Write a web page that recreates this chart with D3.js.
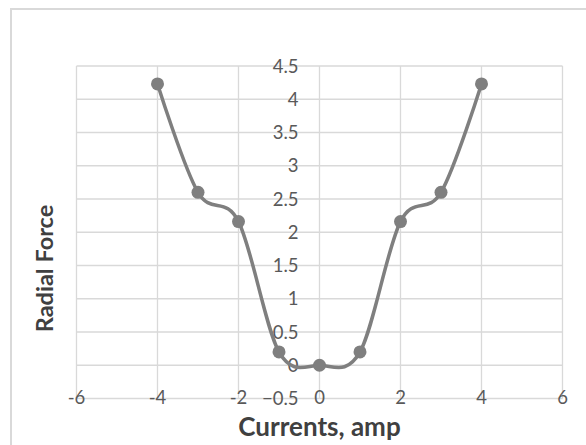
<!DOCTYPE html>
<html>
<head>
<meta charset="utf-8">
<script src="https://cdn.jsdelivr.net/npm/d3@7"></script>
<style>
  html, body { margin: 0; padding: 0; background: #fff; }
  svg { display: block; }
</style>
</head>
<body>
<svg id="chart" width="586" height="445"></svg>
<script>
// Radial force measured at each coil current
const currents = [-4, -3, -2, -1, 0, 1, 2, 3, 4];
const radialForce = [4.23, 2.6, 2.16, 0.2, 0, 0.2, 2.16, 2.6, 4.23];

const xTicks = [-6, -4, -2, 0, 2, 4, 6];
const yTicks = [-0.5, 0, 0.5, 1, 1.5, 2, 2.5, 3, 3.5, 4, 4.5];

const xTitle = "Currents, amp";
const yTitle = "Radial Force";

const svg = d3.select("#chart");
const W = 586, H = 445;

const plot = { left: 76.5, right: 562.5, top: 66, bottom: 398.5 };

const x = d3.scaleLinear().domain([-6, 6]).range([plot.left, plot.right]);
const y = d3.scaleLinear().domain([-0.5, 4.5]).range([plot.bottom, plot.top]);

const font = "Lato, 'Open Sans', sans-serif";

// Chart frame
svg.append("rect")
  .attr("x", 11).attr("y", 9)
  .attr("width", W + 20).attr("height", H + 20)
  .attr("fill", "#fff")
  .attr("stroke", "#d9d9d9")
  .attr("stroke-width", 2);

// Gridlines
const grid = svg.append("g").attr("stroke", "#d9d9d9").attr("stroke-width", 1.3);
grid.selectAll("line.h").data(yTicks).join("line")
  .attr("class", "h")
  .attr("x1", plot.left).attr("x2", plot.right)
  .attr("y1", d => y(d)).attr("y2", d => y(d));
grid.selectAll("line.v").data(xTicks).join("line")
  .attr("class", "v")
  .attr("y1", plot.top).attr("y2", plot.bottom)
  .attr("x1", d => x(d)).attr("x2", d => x(d));

// Y tick labels sit left of the vertical axis at x = 0
svg.append("g")
  .selectAll("text").data(yTicks).join("text")
  .attr("x", x(0) - 21)
  .attr("y", d => y(d))
  .attr("dy", "0.36em")
  .attr("text-anchor", "end")
  .attr("font-family", font)
  .attr("font-size", 18.5)
  .attr("fill", "#595959")
  .text(d => d3.format("")(d));

// X tick labels along the bottom
svg.append("g")
  .selectAll("text").data(xTicks).join("text")
  .attr("x", d => x(d))
  .attr("y", plot.bottom - 1)
  .attr("dy", "0.36em")
  .attr("text-anchor", "middle")
  .attr("font-family", font)
  .attr("font-size", 18.5)
  .attr("fill", "#595959")
  .text(d => d);

// Smoothed series line
const pts = currents.map((c, i) => [c, radialForce[i]]);
const line = d3.line()
  .x(d => x(d[0]))
  .y(d => y(d[1]))
  .curve(d3.curveCardinal.tension(0));

svg.append("path")
  .datum(pts)
  .attr("d", line)
  .attr("fill", "none")
  .attr("stroke", "#7f7f7f")
  .attr("stroke-width", 3.5)
  .attr("stroke-linejoin", "round");

svg.append("g")
  .selectAll("circle").data(pts).join("circle")
  .attr("cx", d => x(d[0]))
  .attr("cy", d => y(d[1]))
  .attr("r", 6.5)
  .attr("fill", "#7f7f7f");

// Axis titles
svg.append("text")
  .attr("x", x(0))
  .attr("y", 436)
  .attr("text-anchor", "middle")
  .attr("font-family", font)
  .attr("font-size", 26)
  .attr("font-weight", "bold")
  .attr("fill", "#404040")
  .text(xTitle);

svg.append("text")
  .attr("transform", `translate(53, ${(197 + 340) / 2}) rotate(-90)`)
  .attr("text-anchor", "middle")
  .attr("font-family", font)
  .attr("font-size", 23.5)
  .attr("font-weight", "bold")
  .attr("fill", "#404040")
  .text(yTitle);
</script>
</body>
</html>
